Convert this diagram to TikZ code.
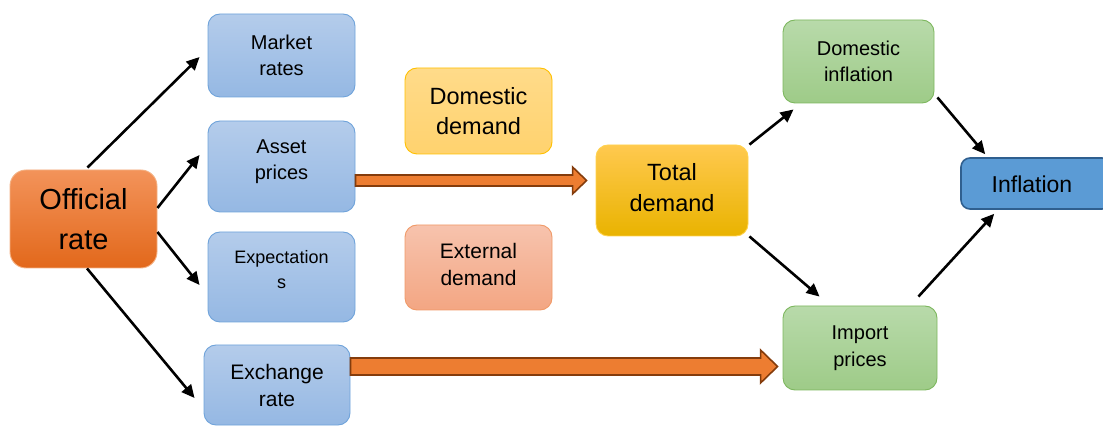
\documentclass[tikz,border=0pt]{standalone}
\usepackage{fontspec}
\setmainfont{Liberation Sans}
\usetikzlibrary{calc,arrows.meta}
\definecolor{blueT}{HTML}{B4CCEB}
\definecolor{blueBo}{HTML}{95B8E3}
\definecolor{blueD}{HTML}{6FA3DA}
\definecolor{offT}{HTML}{F3935A}
\definecolor{offBo}{HTML}{E2681B}
\definecolor{offD}{HTML}{F4B183}
\definecolor{ddT}{HTML}{FFDB8A}
\definecolor{ddBo}{HTML}{FFD26E}
\definecolor{ddD}{HTML}{FFC000}
\definecolor{edT}{HTML}{F7C3AD}
\definecolor{edBo}{HTML}{F3A683}
\definecolor{edD}{HTML}{F09A68}
\definecolor{tdT}{HTML}{FFC94F}
\definecolor{tdBo}{HTML}{E9B300}
\definecolor{tdD}{HTML}{FFD24D}
\definecolor{grT}{HTML}{B8DAAA}
\definecolor{grBo}{HTML}{9ECB88}
\definecolor{grD}{HTML}{7DB75E}
\definecolor{infF}{HTML}{5B9BD5}
\definecolor{infD}{HTML}{2F5F8F}
\definecolor{baF}{HTML}{ED7D31}
\definecolor{baD}{HTML}{843C0C}
\begin{document}
\begin{tikzpicture}[x=1pt,y=-1pt,
  box/.style={rectangle, rounded corners=12pt, line width=0.9pt, inner sep=0pt, align=center, text=black},
  bluebox/.style={box, draw=blueD, top color=blueT, bottom color=blueBo, minimum width=147pt},
  offbox/.style={box, draw=offD, top color=offT, bottom color=offBo, minimum width=147pt, minimum height=98pt, rounded corners=16pt},
  ddbox/.style={box, draw=ddD, top color=ddT, bottom color=ddBo, minimum width=147pt},
  edbox/.style={box, draw=edD, top color=edT, bottom color=edBo, minimum width=147pt},
  tdbox/.style={box, draw=tdD, top color=tdT, bottom color=tdBo, minimum width=152pt, minimum height=91pt},
  grbox/.style={box, draw=grD, top color=grT, bottom color=grBo},
  infbox/.style={box, draw=infD, fill=infF, line width=1.6pt, rounded corners=9pt},
  txt/.style={align=center, inner sep=0pt, text=black},
  f18/.style={font=\fontsize{18}{25}\selectfont},
  f20/.style={font=\fontsize{20}{26.5}\selectfont},
  f21/.style={font=\fontsize{21}{27}\selectfont},
  f23/.style={font=\fontsize{23.5}{30.5}\selectfont},
  f29/.style={font=\fontsize{29}{40}\selectfont},
  link/.style={line width=2.6pt, -{Triangle[length=13pt,width=12pt]}},
  blockarrow/.style={fill=baF, draw=baD, line width=1.6pt, line join=miter}
]
\useasboundingbox (0,0) rectangle (1103,427);

% boxes
\node[offbox, f29] (off) at (83.5,219) {Official\\rate};
\node[bluebox, minimum height=83pt, f20] (mkt) at (281.5,55.5) {Market\\rates};
\node[bluebox, minimum height=91pt] (asset) at (281.5,166.5) {};
\node[txt, f20] (asset-t) at ($(asset)+(0,-5)$) {Asset\\prices};
\node[bluebox, minimum height=90pt] (exp) at (281.5,277) {};
\node[txt, f18] (exp-t) at ($(exp)+(0,-7)$) {Expectation\\s};
\node[bluebox, minimum width=146pt, minimum height=80pt, f21] (exch) at (277,385) {Exchange\\rate};
\node[ddbox, minimum height=86pt, f23] (dd) at (478.5,111) {Domestic\\demand};
\node[edbox, minimum height=85pt] (ed) at (478.5,267.5) {};
\node[txt, f21] (ed-t) at ($(ed)+(0,-3)$) {External\\demand};
\node[tdbox] (td) at (672,190.5) {};
\node[txt, f23] (td-t) at ($(td)+(0,-3)$) {Total\\demand};
\node[grbox, minimum width=151pt, minimum height=83pt, f20] (dinf) at (858.5,61.5) {Domestic\\inflation};
\node[grbox, minimum width=154pt, minimum height=84pt, f20] (imp) at (860,348) {Import\\prices};
\node[infbox, minimum width=150pt, minimum height=51pt, font=\fontsize{23}{28}\selectfont] (infl) at (1036,183.5) {};
\node[txt, font=\fontsize{23}{28}\selectfont] (infl-t) at (1032,184) {Inflation};

% black arrows
\draw[link] ($(off.north)+(4,-2)$) -- ($(mkt.west)+(-8,1.5)$);
\draw[link] ($(off.east)+(0,-11)$) -- ($(asset.west)+(-8,-11.5)$);
\draw[link] ($(off.east)+(0,13)$) -- ($(exp.west)+(-8,8)$);
\draw[link] ($(off.south)+(3.5,0)$) -- ($(exch.west)+(-9,13)$);
\draw[link] ($(td.north east)+(1,0)$) -- ($(dinf.south west)+(11,6)$);
\draw[link] ($(td.south east)+(1,0)$) -- ($(imp.north west)+(37,-9)$);
\draw[link] ($(dinf.south east)+(3,-6)$) -- ($(infl.north west)+(25,-3)$);
\draw[link] ($(imp.north east)+(-19,-9)$) -- ($(infl.south west)+(34,4)$);

% block arrows
\coordinate (a1s) at ($(asset.east)+(0,14)$);
\coordinate (a1e) at ($(td.west)+(-9,-10)$);
\path let \p1=(a1s), \p2=(a1e) in
  [blockarrow] (\x1,\y1+5.5pt) -- (\x2-14pt,\y1+5.5pt) -- (\x2-14pt,\y1+13.5pt)
  -- (\x2,\y1) -- (\x2-14pt,\y1-13.5pt) -- (\x2-14pt,\y1-5.5pt) -- (\x1,\y1-5.5pt) -- cycle;
\coordinate (a2s) at ($(exch.east)+(0,-18.5)$);
\coordinate (a2e) at ($(imp.west)+(-5,18.5)$);
\path let \p1=(a2s), \p2=(a2e) in
  [blockarrow] (\x1,\y1+8.5pt) -- (\x2-17pt,\y1+8.5pt) -- (\x2-17pt,\y1+16.5pt)
  -- (\x2,\y1) -- (\x2-17pt,\y1-16.5pt) -- (\x2-17pt,\y1-8.5pt) -- (\x1,\y1-8.5pt) -- cycle;
\end{tikzpicture}
\end{document}
